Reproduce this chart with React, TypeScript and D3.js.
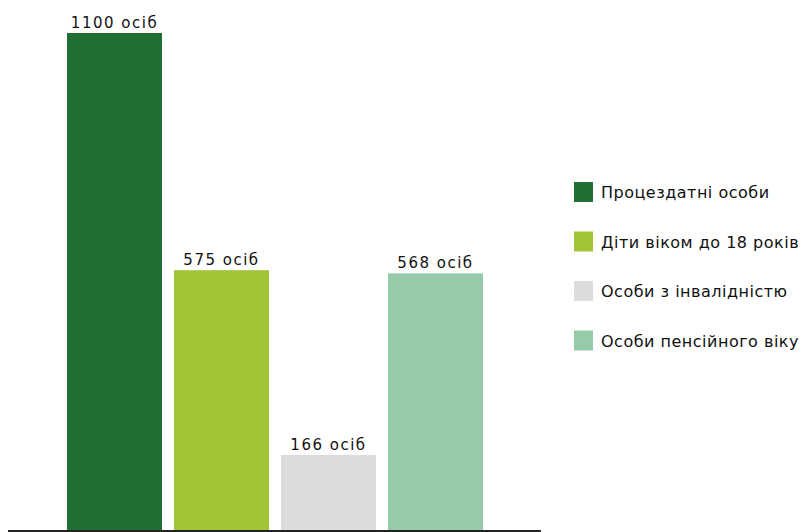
import React from "react";
import * as d3 from "d3";

const categories = [
  "Процездатні особи",
  "Діти віком до 18 років",
  "Особи з інвалідністю",
  "Особи пенсійного віку",
];
const values = [1100, 575, 166, 568];
const colors = ["#1f6f32", "#a2c437", "#dcdcde", "#95cba8"];

const W = 804;
const H = 532;

const App = () => {
  const x = d3
    .scaleBand<string>()
    .domain(categories)
    .range([61, 489])
    .paddingInner(0.112)
    .paddingOuter(0.056);

  const y = d3.scaleLinear().domain([0, 1100]).range([530, 33]);

  const font = "'DejaVu Sans', Lato, sans-serif";

  return (
    <svg
      width={W}
      height={H}
      style={{ position: "absolute", left: 0, top: 0, background: "#fff" }}
      fontFamily={font}
    >
      {categories.map((c, i) => (
        <g key={c}>
          <rect
            x={x(c)}
            y={y(values[i])}
            width={x.bandwidth()}
            height={y(0) - y(values[i])}
            fill={colors[i]}
          />
          <text
            x={(x(c) as number) + x.bandwidth() / 2}
            y={y(values[i]) - 5}
            textAnchor="middle"
            fontSize={15}
            letterSpacing={1.5}
            fill="#111"
          >
            {values[i]} осіб
          </text>
        </g>
      ))}
      <line x1={8} x2={541} y1={531} y2={531} stroke="#222" strokeWidth={2} />
      {categories.map((c, i) => (
        <g key={"lg" + c} transform={`translate(574, ${182 + i * 49.5})`}>
          <rect width={19} height={20} fill={colors[i]} />
          <text x={27} y={16} fontSize={16} letterSpacing={0.5} fill="#111">
            {c}
          </text>
        </g>
      ))}
    </svg>
  );
};

export default App;
